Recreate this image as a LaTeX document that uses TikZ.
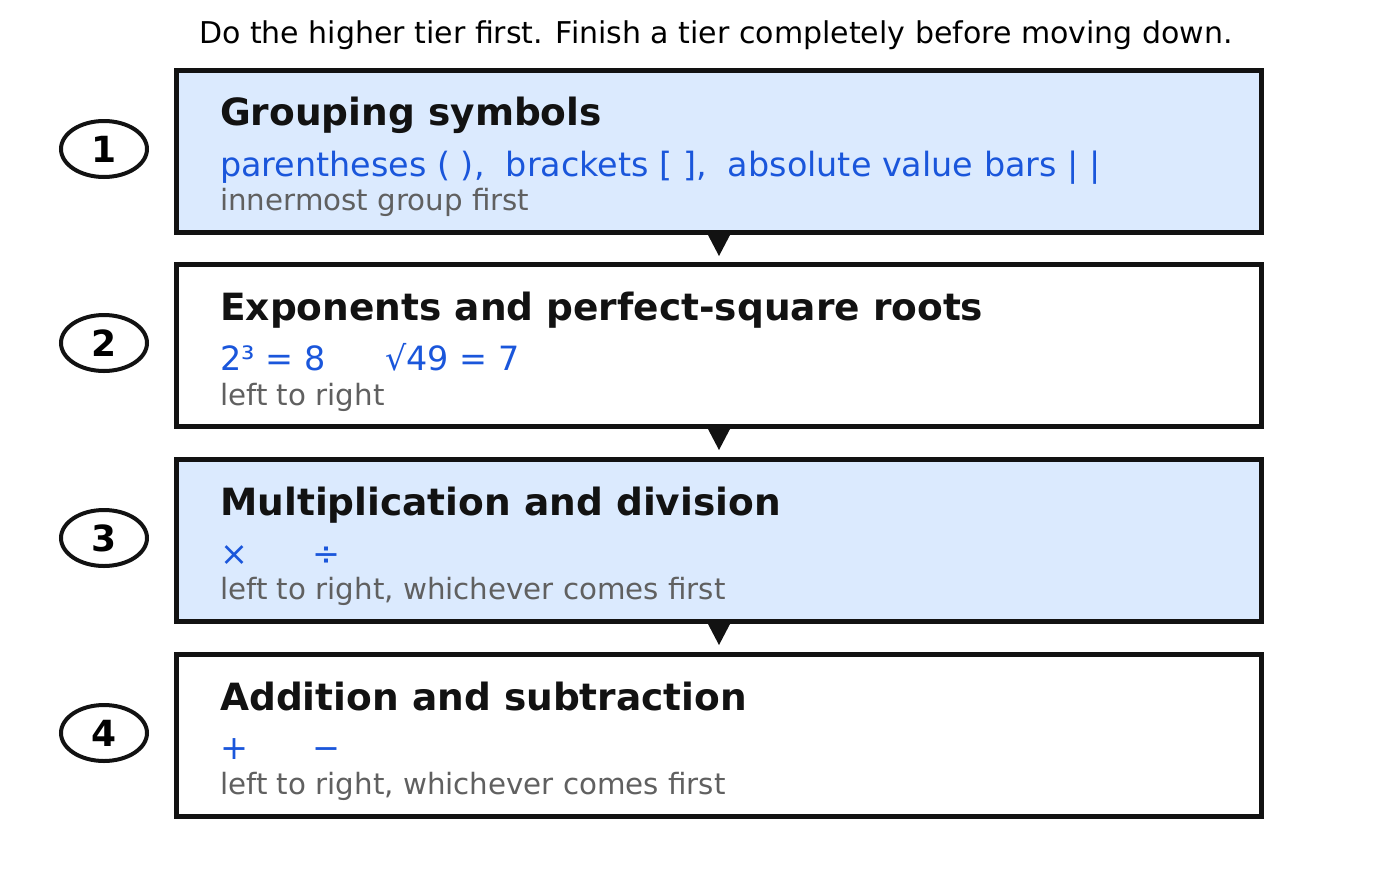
\documentclass[tikz,border=0pt]{standalone}
\usetikzlibrary{shapes.geometric,calc}
\usepackage{fontspec}
\setmainfont{DejaVu Sans}
\begin{document}
\begin{tikzpicture}[x=1pt,y=-1pt,
 box/.style={draw=black!93,line width=5pt,minimum width=1085pt,minimum height=162pt,anchor=north west,inner sep=0pt},
 num/.style={draw=black!93,line width=4pt,ellipse,minimum width=86pt,minimum height=56pt,inner sep=0pt,font=\fontsize{36}{36}\selectfont\bfseries},
 head/.style={anchor=base west,inner sep=0pt,text=black!93,font=\fontsize{37.5}{37.5}\selectfont\bfseries},
 ex/.style={anchor=base west,inner sep=0pt,text=blue1,font=\fontsize{33.4}{33.4}\selectfont},
 note/.style={anchor=base west,inner sep=0pt,text=gray1,font=\fontsize{29.3}{29.3}\selectfont},
 arr/.style={fill=black!93,draw=none}]
\definecolor{blue1}{HTML}{1A56DB}
\definecolor{gray1}{HTML}{606060}
\definecolor{fill1}{HTML}{DBEAFE}
\useasboundingbox (0,0) rectangle (1373,884);
\node[anchor=base,inner sep=0pt,font=\fontsize{30}{30}\selectfont] (t) at (716,43) {Do the higher tier first. Finish a tier completely before moving down.};
\foreach \i/\y/\f in {1/68/fill1,2/262/white,3/457/fill1,4/652/white}{
 \node[box,fill=\f] (b\i) at (174,\y) {};
 \node[num] (n\i) at (104,\y+81) {\i};
}
\foreach \i in {1,2,3}{
 \fill[arr] ($(b\i.south)+(-11,0)$) -- ($(b\i.south)+(11,0)$) -- ($(b\i.south)+(0,21)$) -- cycle;
}
\node[head] (h1) at (220,125) {Grouping symbols};
\node[ex] (e1) at (220,176) {parentheses ( ),\ \ brackets [ ],\ \ absolute value bars | |};
\node[note] (o1) at (220,210) {innermost group first};
\node[head] (h2) at (220,320) {Exponents and perfect-square roots};
\node[ex] (e2) at (220,370) {2³ = 8\hspace{60pt}√49 = 7};
\node[note] (o2) at (220,405) {left to right};
\node[head] (h3) at (220,515) {Multiplication and division};
\node[ex] (e3) at (220,565) {×};
\node[ex] (e3b) at (312,565) {÷};
\node[note] (o3) at (220,599) {left to right, whichever comes first};
\node[head] (h4) at (220,710) {Addition and subtraction};
\node[ex] (e4) at (220,759) {+};
\node[ex] (e4b) at (312,759) {−};
\node[note] (o4) at (220,794) {left to right, whichever comes first};
\end{tikzpicture}
\end{document}
